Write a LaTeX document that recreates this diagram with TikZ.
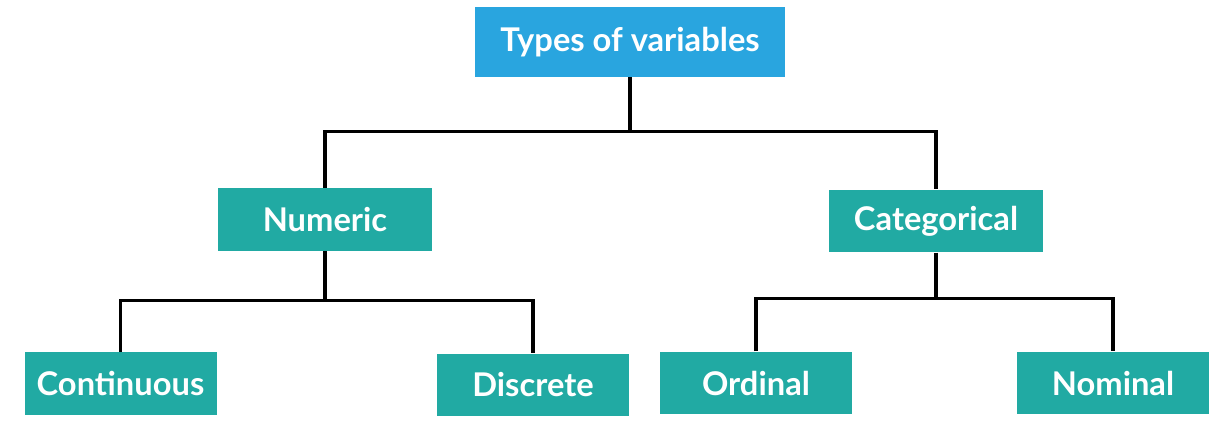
\documentclass[tikz,border=0pt]{standalone}
\usepackage{fontspec}
\setmainfont{Lato}
\begin{document}
\begin{tikzpicture}[x=0.75pt,y=0.75pt,yscale=-1,xscale=1,
    rootbox/.style={fill={rgb,255:red,41;green,165;blue,223}, text=white, inner sep=0pt,
      minimum width=233pt, minimum height=52pt, font=\fontsize{24.5}{28}\selectfont\bfseries},
    catbox/.style={fill={rgb,255:red,33;green,170;blue,163}, text=white, inner sep=0pt,
      minimum width=144pt, minimum height=47pt, font=\fontsize{24.5}{28}\selectfont\bfseries},
    link/.style={line width=2.3pt, black}]
\useasboundingbox (0,0) rectangle (1224,434);
% Boxes
\node[rootbox] (types) at (630,42) {Types of variables};
\node[catbox, minimum width=160pt] (num) at (325,219.5) {Numeric};
\node[catbox, minimum width=160pt] (cat) at (936,221) {Categorical};
\node[catbox] (cont) at (120.5,383.5) {Continuous};
\node[catbox] (disc) at (533,385) {Discrete};
\node[catbox] (ord) at (756,383) {Ordinal};
\node[catbox] (nom) at (1113,383) {Nominal};
% Connectors
\draw[link] (types.south) -- ++(0,55) coordinate (topbar);
\draw[link] (num.north) |- (topbar) -| (cat.north);
\draw[link] (num.south) -- ++(0,49) coordinate (numbar);
\draw[link] (cont.north) |- (numbar) -| (disc.north);
\draw[link] (cat.south) -- ++(0,46) coordinate (catbar);
\draw[link] (ord.north) |- (catbar) -| (nom.north);
\end{tikzpicture}
\end{document}
